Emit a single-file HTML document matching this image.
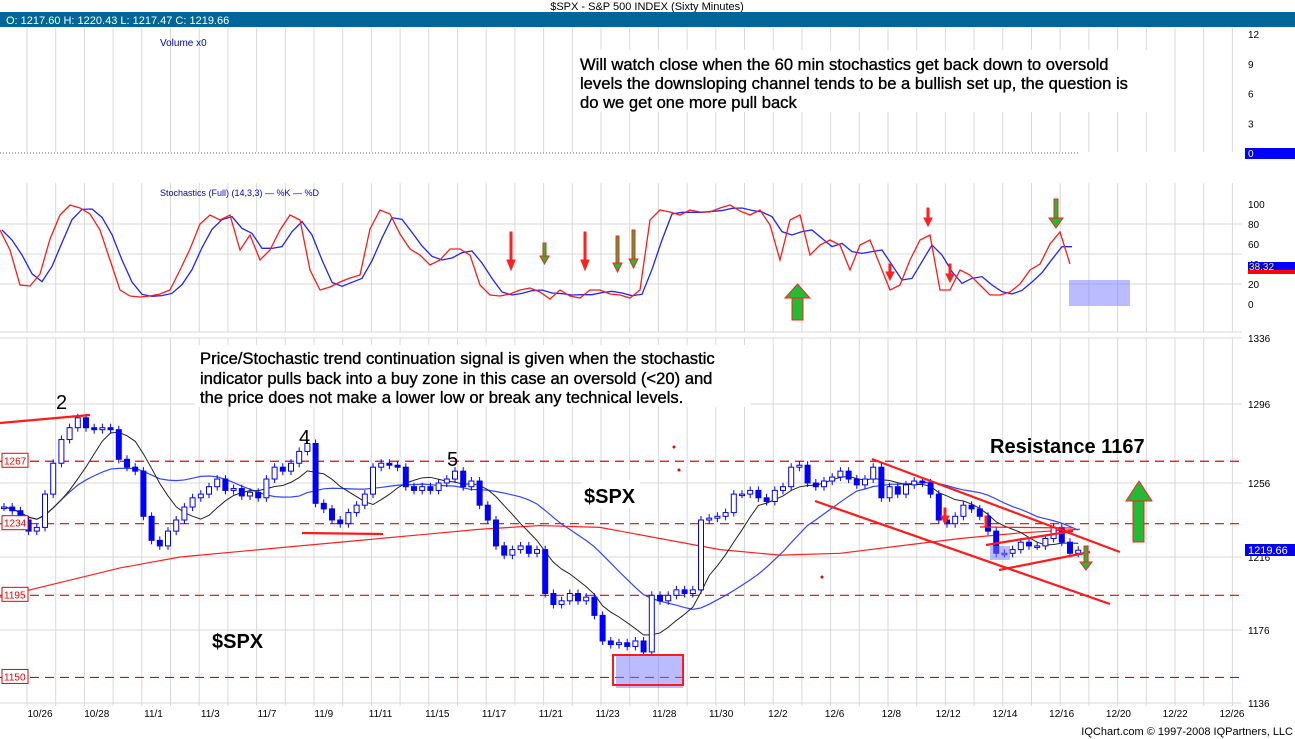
<!DOCTYPE html>
<html><head><meta charset="utf-8">
<style>
html,body{margin:0;padding:0;background:#fff;}
body{width:1295px;height:739px;overflow:hidden;position:relative;font-family:"Liberation Sans",Arial,sans-serif;}
svg{position:absolute;left:0;top:0;}
text{font-family:"Liberation Sans",Arial,sans-serif;}
</style></head>
<body>
<svg id="chart" width="1295" height="739" viewBox="0 0 1295 739">
  <text x="647" y="10" font-size="11" text-anchor="middle" fill="#000">$SPX - S&amp;P 500 INDEX (Sixty Minutes)</text>
  <rect x="0" y="12" width="1295" height="15" fill="#006699"/>
  <text x="6" y="24" font-size="11" fill="#fff">O: 1217.60  H: 1220.43  L: 1217.47  C: 1219.66</text>
  <g id="grid"></g>
  <g id="vol"></g>
  <g id="stoch"></g>
  <g id="price"></g>
  <g id="annot"></g>
  <g id="axes"></g>
</svg>
<script>
// ---- data ----
const priceTicks = [1136,1176,1216,1256,1296,1336];
const closes = [1243,1241,1236,1230,1232,1250,1266,1278,1284,1289,1284,1283,1284,1283,1268,1264,1262,1238,1225,1222,
1230,1236,1243,1248,1250,1254,1258,1252,1253,1249,1251,1248,1258,1264,1262,1266,1272,1276,1245,1242,
1236,1234,1240,1244,1250,1264,1266,1265,1264,1254,1252,1254,1252,1256,1258,1262,1254,1257,1244,1236,
1222,1217,1220,1222,1218,1220,1196,1190,1192,1196,1192,1194,1184,1170,1168,1169,1167,1170,1164,1195,
1192,1195,1198,1196,1198,1236,1237,1238,1240,1250,1250,1252,1248,1246,1252,1254,1264,1265,1256,1254,
1257,1259,1262,1258,1255,1258,1264,1248,1254,1250,1255,1257,1256,1250,1236,1234,1238,1244,1242,1238,
1230,1218,1218,1220,1224,1222,1222,1226,1232,1224,1218,1219.66];
const longMA = [1194,1202,1210,1216,1219,1222,1225,1228,1231,1233,1232,1226,1220,1217,1218,1222,1226,1229,1231];
const stochK = [74,54,19,18,30,65,89,99,96,90,74,44,14,8,7,8,10,14,34,55,80,89,84,89,54,69,44,54,74,89,84,34,14,17,22,26,29,75,94,90,
70,55,49,39,44,55,55,49,19,9,8,10,14,16,12,5,14,8,6,14,14,10,9,6,14,84,94,92,89,94,92,92,96,99,93,89,94,79,44,84,
89,49,59,64,59,34,59,64,39,14,19,44,64,69,14,14,34,29,19,9,9,12,20,34,40,60,72,40];
const stochTicks = [0,20,40,60,80,100];
const volTicks = [3,6,9,12];
const dateLabels = ["10/26","10/28","11/1","11/3","11/7","11/9","11/11","11/15","11/17","11/21","11/23","11/28","11/30","12/2","12/6","12/8","12/12","12/14","12/16","12/20","12/22","12/26"];
const levelValues = [1267,1234,1195,1150];

// ---- scales ----
const NS="http://www.w3.org/2000/svg";
const PL=0, PR=1242;
function mk(tag,attrs,parent){const e=document.createElementNS(NS,tag);for(const k in attrs)e.setAttribute(k,attrs[k]);parent.appendChild(e);return e;}
const pYs=[703,630,557,483,404,338];
function py(p){
  for(let i=0;i<priceTicks.length-1;i++){
    if(p<=priceTicks[i+1]||i===priceTicks.length-2){
      const t=(p-priceTicks[i])/(priceTicks[i+1]-priceTicks[i]);
      return pYs[i]+t*(pYs[i+1]-pYs[i]);
    }
  }
}
function sy(v){return 304-v*1.0;}
function vy(v){return 153-v*(119/12);}
const barStep=8.2, bx=i=>4+i*barStep;
const kx=i=>i*10;
const dateX=i=>40+i*56.76;

const grid=document.getElementById('grid');
for(let x=27;x<PR;x+=28.7){
  [[28,152],[183,332],[338,706]].forEach(r=>{
    mk('line',{x1:x,x2:x,y1:r[0],y2:r[1],stroke:'#d8d8d8','stroke-width':1},grid);
  });
}
priceTicks.forEach(p=>{mk('line',{x1:PL,x2:PR,y1:py(p),y2:py(p),stroke:'#d8d8d8'},grid);});
[20,50,80].forEach(v=>{mk('line',{x1:PL,x2:PR,y1:sy(v),y2:sy(v),stroke:'#d8d8d8'},grid);});
mk('line',{x1:PL,x2:PR,y1:332,y2:332,stroke:'#d8d8d8'},grid);

const vol=document.getElementById('vol');
mk('line',{x1:0,x2:1078,y1:153,y2:153,stroke:'#666','stroke-dasharray':'1,2'},vol);
const vt=mk('text',{x:160,y:46,'font-size':10,fill:'#0000cc'},vol);vt.textContent='Volume x0';



const axes=document.getElementById('axes');
volTicks.forEach(v=>{const t=mk('text',{x:1248,y:vy(v)+4,'font-size':10,fill:'#000'},axes);t.textContent=v;

});
mk('rect',{x:1245,y:148,width:50,height:11,fill:'#0000ff'},axes);
const v0=mk('text',{x:1248,y:157,'font-size':10,fill:'#fff'},axes);v0.textContent='0';



const st=document.getElementById('stoch');
const lg=mk('text',{x:160,y:196,'font-size':9,fill:'#0000cc'},st);
lg.textContent='Stochastics (Full) (14,3,3)  — %K  — %D';


const stochD=stochK.map((v,i)=>{const a=stochK.slice(Math.max(0,i-2),i+1);return a.reduce((s,x)=>s+x,0)/a.length;});
let dK='',dD='';
stochK.forEach((v,i)=>{dK+=(i?'L':'M')+kx(i)+','+sy(v);});
stochD.forEach((v,i)=>{dD+=(i?'L':'M')+(kx(i)+2)+','+sy(v);});
const dl=mk('path',{d:dD,fill:'none',stroke:'#2222ff','stroke-width':1.3},st);


const kl=mk('path',{d:dK,fill:'none',stroke:'#ff1a1a','stroke-width':1.3},st);


stochTicks.forEach(v=>{const t=mk('text',{x:1248,y:sy(v)+4,'font-size':10,fill:'#000'},axes);t.textContent=v;

});
mk('rect',{x:1248,y:262,width:47,height:8,fill:'#0000ff'},axes);
mk('rect',{x:1248,y:270,width:47,height:4,fill:'#ff0000'},axes);
const sv=mk('text',{x:1249,y:270,'font-size':10,fill:'#ffff00'},axes);sv.textContent='38.32';



const pr=document.getElementById('price');
levelValues.forEach(v=>{
  const y=py(v);
  mk('line',{x1:0,x2:PR,y1:y,y2:y,stroke:'#e00','stroke-dasharray':'9,6','stroke-width':1.2},pr);
});
function sma(n){return closes.map((c,i)=>{const a=closes.slice(Math.max(0,i-n+1),i+1);return a.reduce((s,x)=>s+x,0)/a.length;});}
const ma1=sma(8), ma2=sma(20);
let d1='',d2='',d3='';
ma1.forEach((v,i)=>{d1+=(i?'L':'M')+bx(i)+','+py(v);});
ma2.forEach((v,i)=>{d2+=(i?'L':'M')+bx(i)+','+py(v);});
longMA.forEach((v,i)=>{d3+=(i?'L':'M')+(i*60)+','+py(v);});
const m3=mk('path',{d:d3,fill:'none',stroke:'#ff2020','stroke-width':1.2},pr);


const m2=mk('path',{d:d2,fill:'none',stroke:'#3344ff','stroke-width':1.2},pr);


const m1=mk('path',{d:d1,fill:'none',stroke:'#222','stroke-width':1},pr);


closes.forEach((c,i)=>{
  const o=i?closes[i-1]:c;
  const x=bx(i), y1=py(Math.max(o,c)), y2=py(Math.min(o,c));
  const up=c>=o;
  mk('line',{x1:x,x2:x,y1:y1-4,y2:y2+4,stroke:'#0000ff','stroke-width':1},pr);
  const r=mk('rect',{x:x-2.5,y:y1,width:5,height:Math.max(1.5,y2-y1),fill:up?'#fff':'#0000ff',stroke:'#0000ff','stroke-width':1},pr);
  
  
});
priceTicks.forEach(p=>{const t=mk('text',{x:1248,y:py(p)+4,'font-size':10,fill:'#000'},axes);t.textContent=p;

});
mk('rect',{x:1245,y:544,width:50,height:12,fill:'#0000ff'},axes);
const lt=mk('text',{x:1248,y:554,'font-size':11,fill:'#fff'},axes);lt.textContent=closes[closes.length-1].toFixed(2);


levelValues.forEach(v=>{
  const y=py(v);
  mk('rect',{x:2,y:y-8,width:26,height:14,fill:'#fff',stroke:'#e00'},axes);
  const t=mk('text',{x:4,y:y+3,'font-size':10,fill:'#e00'},axes);t.textContent=v;
  
  
});
dateLabels.forEach((d,i)=>{const t=mk('text',{x:dateX(i),y:717,'font-size':10,fill:'#000','text-anchor':'middle'},axes);t.textContent=d;

});
const cp=mk('text',{x:1293,y:735,'font-size':11,fill:'#000','text-anchor':'end'},axes);cp.textContent='IQChart.com © 1997-2008 IQPartners, LLC';


</script>
<svg width="1295" height="739" style="pointer-events:none">
  <g font-size="16.6" fill="#000" stroke="#000" stroke-width="0.35">
    <rect x="575" y="50" width="585" height="62" fill="#fff" stroke="none"/>
    <text x="580" y="70">Will watch close when the 60 min stochastics get back down to oversold</text>
    <text x="580" y="89">levels the downsloping channel tends to be a bullish set up, the question is</text>
    <text x="580" y="108">do we get one more pull back</text>
  </g>
  <g font-size="16.6" fill="#000" stroke="#000" stroke-width="0.35">
    <rect x="195" y="345" width="555" height="62" fill="#fff" stroke="none"/>
    <text x="200" y="364">Price/Stochastic trend continuation signal is given when the stochastic</text>
    <text x="200" y="384">indicator pulls back into a buy zone in this case an oversold (&lt;20) and</text>
    <text x="200" y="403">the price does not make a lower low or break any technical levels.</text>
  </g>
  <text x="56" y="409" font-size="20" fill="#000">2</text>
  <text x="299" y="444" font-size="20" fill="#000">4</text>
  <text x="447" y="466" font-size="20" fill="#000">5</text>
  <rect x="582" y="480" width="58" height="28" fill="#fff"/>
  <text x="584" y="503" font-size="20" font-weight="bold" fill="#000">$SPX</text>
  <text x="212" y="648" font-size="20" font-weight="bold" fill="#000">$SPX</text>
  <text x="990" y="453" font-size="20" font-weight="bold" fill="#000">Resistance 1167</text>
  <g stroke="#ff1a1a" stroke-width="2.2">
    <line x1="0" y1="423" x2="90" y2="415"/>
    <line x1="302" y1="533" x2="383" y2="534"/>
    <line x1="872" y1="459" x2="1120" y2="552"/>
    <line x1="815" y1="501" x2="1110" y2="604"/>
    <line x1="986" y1="545" x2="1073" y2="531"/>
    <line x1="999" y1="570" x2="1090" y2="552"/>
    <line x1="980" y1="527" x2="1073" y2="528" stroke-width="1.2"/>
  </g>
  <circle cx="674" cy="447" r="1.5" fill="#e00"/><circle cx="679" cy="470" r="1.5" fill="#e00"/><circle cx="822" cy="577" r="1.5" fill="#e00"/>
  <rect x="1069" y="280" width="61" height="26" fill="#7777ff" fill-opacity="0.5"/>
  <rect x="616" y="655" width="67" height="33" fill="#7777ff" fill-opacity="0.5"/>
  <rect x="613" y="655" width="70" height="30" fill="none" stroke="#ff1a1a" stroke-width="2"/>
  <rect x="990" y="546" width="20" height="14" fill="#7777ff" fill-opacity="0.5"/>
  <g>
    <g fill="#ff2020" stroke="#ff2020">
      <rect x="510" y="232" width="2" height="30"/><polygon points="507,260 515,260 511,270"/>
      <rect x="584" y="232" width="2" height="30"/><polygon points="581,260 589,260 585,270"/>
      <rect x="927" y="208" width="2" height="12"/><polygon points="924,218 932,218 928,226"/>
      <rect x="889" y="264" width="2" height="10"/><polygon points="886,272 894,272 890,280"/>
      <rect x="949" y="264" width="2" height="12"/><polygon points="946,274 954,274 950,282"/>
      <rect x="944" y="508" width="2" height="10"/><polygon points="941,516 949,516 945,524"/>
      <rect x="985" y="516" width="2" height="10"/>
    </g>
    <g fill="#22bb33" stroke="#ff2020" stroke-width="1">
      <rect x="543" y="243" width="3" height="14"/><polygon points="540,256 549,256 544.5,264"/>
      <rect x="616" y="236" width="3" height="28"/><polygon points="613,263 622,263 617.5,272"/>
      <rect x="632" y="230" width="3" height="30"/><polygon points="629,259 638,259 633.5,268"/>
      <rect x="1054" y="199" width="4" height="20"/><polygon points="1049,218 1063,218 1056,228"/>
      <rect x="1084" y="546" width="4" height="16"/><polygon points="1080,562 1092,562 1086,570"/>
      <rect x="792" y="298" width="11" height="22"/><polygon points="785,298 810,298 797.5,284"/>
      <rect x="1133" y="501" width="11" height="41"/><polygon points="1126,501 1152,501 1139,481"/>
    </g>
  </g>
</svg>
</body></html>
